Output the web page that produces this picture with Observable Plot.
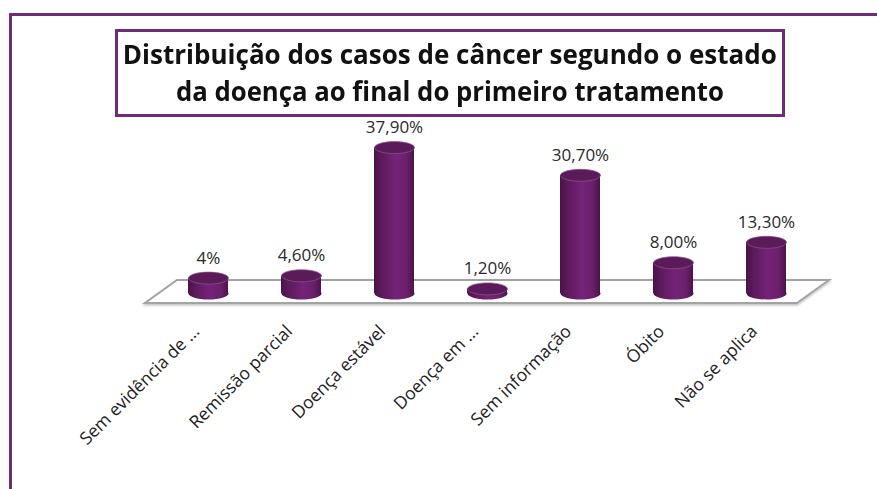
<!DOCTYPE html>
<html>
<head>
<meta charset="utf-8">
<script src="https://cdn.jsdelivr.net/npm/d3@7"></script>
<script src="https://cdn.jsdelivr.net/npm/@observablehq/plot@0.6"></script>
<style>
  html, body { margin: 0; padding: 0; background: #fff; }
  #wrap { position: relative; width: 877px; height: 489px; overflow: hidden; font-family: "Open Sans", sans-serif; }
  #frame { position: absolute; left: 9px; top: 13px; width: 900px; height: 500px; border-left: 3px solid #6f2c77; border-top: 3px solid #6f2c77; box-sizing: border-box; }
  #titlebox { position: absolute; left: 115px; top: 29px; width: 670px; height: 88px; border: 3px solid #6f2c77; box-sizing: border-box; background: #fff; }
  .tl { position: absolute; left: 0; width: 100%; text-align: center; font-weight: 700; font-size: 26px; color: #111; white-space: nowrap; line-height: 1; }
  .tl span { display: inline-block; transform-origin: center; }
  #chart { position: absolute; left: 0; top: 0; }
</style>
</head>
<body>
<div id="wrap">
  <div id="chart"></div>
  <div id="frame"></div>
  <div id="titlebox">
    <div class="tl" style="top:9px"><span id="t1">Distribuição dos casos de câncer segundo o estado</span></div>
    <div class="tl" style="top:46px"><span id="t2">da doença ao final do primeiro tratamento</span></div>
  </div>
</div>
<script>
const categories = ["Sem evidência de ...", "Remissão parcial", "Doença estável", "Doença em ...", "Sem informação", "Óbito", "Não se aplica"];
const values = [4, 4.6, 37.9, 1.2, 30.7, 8.0, 13.3];
const valueLabels = ["4%", "4,60%", "37,90%", "1,20%", "30,70%", "8,00%", "13,30%"];

const data = categories.map((c, i) => ({cat: c, value: values[i], label: valueLabels[i]}));

const ellipse = {
  draw(context) {
    const rx = 20, ry = 6, k = 0.5523;
    context.moveTo(rx, 0);
    context.bezierCurveTo(rx, ry * k, rx * k, ry, 0, ry);
    context.bezierCurveTo(-rx * k, ry, -rx, ry * k, -rx, 0);
    context.bezierCurveTo(-rx, -ry * k, -rx * k, -ry, 0, -ry);
    context.bezierCurveTo(rx * k, -ry, rx, -ry * k, rx, 0);
    context.closePath();
  }
};

const NS = "http://www.w3.org/2000/svg";
function defsMark() {
  const g = document.createElementNS(NS, "g");
  g.innerHTML = `<defs>
    <linearGradient id="cyl" x1="0" x2="1" y1="0" y2="0">
      <stop offset="0" stop-color="#4a1248"/>
      <stop offset="0.18" stop-color="#5c1a5b"/>
      <stop offset="0.55" stop-color="#742478"/>
      <stop offset="0.82" stop-color="#6a1f6a"/>
      <stop offset="1" stop-color="#4c1349"/>
    </linearGradient>
    <filter id="sh" x="-5%" y="-20%" width="110%" height="160%">
      <feDropShadow dx="0" dy="1.5" stdDeviation="1" flood-color="#000" flood-opacity="0.25"/>
    </filter>
  </defs>`;
  return g;
}

function floorMark(index, scales, values, dims) {
  const x0 = dims.marginLeft, x1 = dims.width - dims.marginRight;
  const y0 = scales.y(0);
  const skew = 16, front = 10, back = 13;
  const p = [[x0 - skew, y0 + front], [x1 - skew, y0 + front], [x1 + skew, y0 - back], [x0 + skew, y0 - back]];
  const path = document.createElementNS(NS, "path");
  path.setAttribute("d", "M" + p.map(d => d.join(",")).join("L") + "Z");
  path.setAttribute("fill", "#fff");
  path.setAttribute("stroke", "#a3a3a3");
  path.setAttribute("stroke-width", "2");
  path.setAttribute("filter", "url(#sh)");
  return path;
}

const plot = Plot.plot({
  width: 877,
  height: 489,
  marginLeft: 161,
  marginRight: 64,
  marginTop: 139,
  marginBottom: 196,
  style: {fontFamily: "Open Sans, sans-serif", background: "transparent", overflow: "visible"},
  x: {domain: categories, paddingInner: 0.57, paddingOuter: 0.285, axis: null},
  y: {domain: [0, 40], axis: null},
  marks: [
    defsMark,
    floorMark,
    Plot.dot(data, {x: "cat", y: () => 0, symbol: ellipse, fill: "url(#cyl)"}),
    Plot.barY(data, {x: "cat", y: "value", fill: "url(#cyl)"}),
    Plot.dot(data, {x: "cat", y: "value", symbol: ellipse, fill: "#5b1a59", stroke: "#8a5a88", strokeWidth: 0.7}),
    Plot.text(data, {x: "cat", y: "value", text: "label", dy: -20, fontSize: 17, fill: "#2a2a2a"}),
    Plot.text(data, {x: "cat", y: () => 0, text: "cat", rotate: -45, textAnchor: "end", lineAnchor: "middle", dx: -12, dy: 35, fontSize: 17.5, fill: "#222"})
  ]
});
document.getElementById("chart").appendChild(plot);

function fit(id, w) {
  const el = document.getElementById(id);
  const cur = el.getBoundingClientRect().width;
  el.style.transform = `scaleX(${w / cur})`;
}
fit("t1", 654);
fit("t2", 548);
</script>
</body>
</html>
